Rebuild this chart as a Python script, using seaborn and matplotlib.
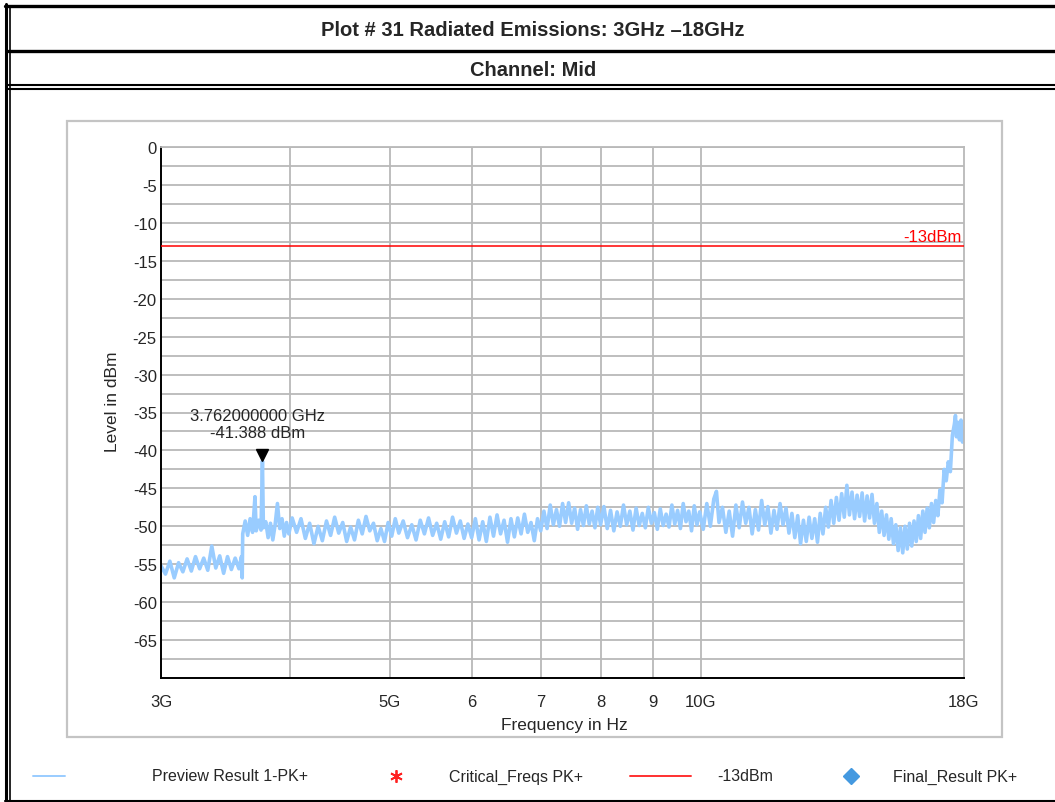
import numpy as np
import pandas as pd
import matplotlib
matplotlib.use("Agg")
import matplotlib.pyplot as plt
from matplotlib.lines import Line2D
from matplotlib.patches import Rectangle
from matplotlib.ticker import FixedLocator, FixedFormatter, MultipleLocator
import seaborn as sns

# preview trace (PK+), frequency in GHz, level in dBm
trace_freq = [
    3.00, 3.03, 3.06, 3.09, 3.12, 3.15, 3.18, 3.21, 3.24, 3.27, 3.30, 3.33, 3.36, 3.39,
    3.42, 3.45, 3.48, 3.51, 3.54, 3.57, 3.59, 3.596, 3.600,
    3.62, 3.64, 3.66, 3.68, 3.70, 3.71, 3.73, 3.75, 3.762, 3.77, 3.79, 3.81, 3.83, 3.85,
    3.87, 3.89, 3.91, 3.93, 3.95, 3.97, 3.99,
    4.02, 4.06, 4.10, 4.14, 4.18, 4.22, 4.26, 4.30, 4.34, 4.38, 4.42, 4.46, 4.50, 4.54,
    4.58, 4.62, 4.66, 4.70, 4.74, 4.78, 4.82, 4.86, 4.90, 4.94, 4.98, 5.02, 5.06, 5.10,
    5.15, 5.20, 5.25, 5.30, 5.35, 5.40, 5.45, 5.50, 5.55, 5.60, 5.65, 5.70, 5.75, 5.80,
    5.85, 5.90, 5.95, 6.00,
    6.05, 6.10, 6.15, 6.20, 6.25, 6.30, 6.35, 6.40, 6.45, 6.50, 6.55, 6.60, 6.65, 6.70,
    6.75, 6.80, 6.85, 6.90, 6.95, 7.00,
    7.05, 7.10, 7.15, 7.20, 7.25, 7.30, 7.35, 7.40, 7.45, 7.50, 7.55, 7.60, 7.65, 7.70,
    7.75, 7.80, 7.85, 7.90, 7.95, 8.00,
    8.06, 8.12, 8.18, 8.24, 8.30, 8.36, 8.42, 8.48, 8.54, 8.60, 8.66, 8.72, 8.78, 8.84,
    8.90, 8.96, 9.02, 9.08, 9.14, 9.20, 9.26, 9.32, 9.38, 9.44, 9.50, 9.56, 9.62, 9.68,
    9.74, 9.80, 9.86, 9.92, 9.98,
    10.06, 10.14, 10.22, 10.30, 10.36, 10.42, 10.50, 10.58, 10.66, 10.74, 10.82, 10.90,
    10.98, 11.06, 11.14, 11.22, 11.30, 11.38, 11.46, 11.54, 11.62, 11.70, 11.78, 11.86,
    11.94, 12.02, 12.10, 12.18, 12.26, 12.34,
    12.42, 12.50, 12.58, 12.66, 12.74, 12.82, 12.90, 12.98, 13.06, 13.14,
    13.22, 13.30, 13.38, 13.46, 13.54, 13.62, 13.70, 13.78, 13.86, 13.94, 14.02, 14.10,
    14.18, 14.26, 14.34, 14.42, 14.50, 14.58, 14.66, 14.74,
    14.82, 14.90, 14.98, 15.06, 15.14, 15.22, 15.30, 15.38,
    15.46, 15.54, 15.62, 15.70, 15.78, 15.86, 15.94, 16.02, 16.10, 16.18,
    16.26, 16.34, 16.42, 16.50, 16.58, 16.66, 16.74, 16.82,
    16.90, 16.98, 17.06, 17.14, 17.22, 17.30, 17.38, 17.46, 17.54, 17.62, 17.66, 17.70,
    17.76, 17.82, 17.88, 17.94, 18.00,
]
trace_level = [
    -55.2, -56.3, -54.6, -56.8, -54.8, -56.0, -54.3, -55.9, -54.0, -55.6, -54.2, -55.8, -52.6, -55.5,
    -53.9, -56.2, -54.0, -55.7, -54.2, -55.6, -54.0, -56.8, -51.0,
    -49.3, -51.2, -49.0, -50.8, -46.1, -50.6, -49.2, -50.5, -41.388, -50.2, -49.4, -51.5, -49.6, -51.8,
    -49.8, -47.0, -50.3, -49.0, -51.3, -49.5, -51.0,
    -48.9, -50.8, -49.0, -51.6, -49.6, -52.3, -50.0, -51.9, -49.3, -51.2, -48.8, -50.9, -49.5, -52.0,
    -50.1, -51.8, -49.2, -51.0, -48.7, -50.6, -49.6, -51.9, -50.3, -52.0, -49.5, -51.3, -49.0, -50.9,
    -49.3, -51.5, -49.8, -51.8, -49.2, -51.0, -48.9, -51.2, -49.6, -51.7, -49.4, -51.4, -48.8, -50.9,
    -49.3, -51.6, -49.7, -51.5,
    -49.0, -51.8, -49.4, -52.0, -48.8, -51.3, -48.5, -51.0, -49.2, -52.1, -49.0, -51.4, -48.9, -51.0,
    -48.4, -50.8, -49.5, -51.9, -49.0, -50.6,
    -48.0, -50.3, -47.2, -49.8, -47.8, -50.0, -47.0, -49.5, -46.9, -49.6, -47.6, -50.4, -47.8, -49.9,
    -47.3, -49.7, -48.0, -50.2, -47.5, -49.8,
    -47.4, -50.3, -47.9, -50.6, -48.1, -50.0, -47.2, -49.8, -48.0, -50.5, -47.6, -49.9, -48.3, -50.2,
    -47.5, -49.6, -48.2, -50.4, -47.7, -49.9, -48.4, -50.1, -47.2, -49.7, -47.9, -50.3, -47.0, -49.4,
    -48.0, -50.6, -47.3, -49.8, -48.1,
    -50.4, -47.0, -50.0, -46.4, -45.4, -49.5, -47.5, -50.8, -48.0, -51.3, -47.2, -50.2,
    -46.8, -49.6, -47.5, -51.0, -47.8, -50.5, -46.6, -49.8, -47.4, -50.9, -47.9, -50.4,
    -47.0, -49.8, -47.6, -50.9, -48.3, -51.5,
    -48.6, -52.3, -49.2, -52.0, -48.8, -51.6, -49.0, -52.1, -48.3, -51.0,
    -47.5, -50.1, -46.6, -49.6, -46.2, -49.2, -45.7, -48.8, -44.6, -48.5, -45.5, -49.0,
    -45.9, -48.7, -45.6, -49.3, -46.0, -48.9, -45.8, -49.6,
    -47.0, -50.8, -48.0, -51.2, -48.5, -51.7, -49.0, -52.3,
    -49.8, -53.2, -50.2, -53.5, -50.0, -53.0, -49.6, -52.6, -49.3, -52.0,
    -48.6, -51.6, -48.0, -50.8, -47.6, -50.2, -47.0, -49.5,
    -46.6, -48.6, -45.2, -46.9, -42.5, -44.0, -41.5, -42.8, -38.0, -36.5, -35.4, -38.2,
    -36.3, -38.6, -36.0, -38.9, -37.5,
]

limit_dbm = -13
peak_freq = 3.762
peak_level = -41.388

x_ticks = [3, 4, 5, 6, 7, 8, 9, 10, 18]
x_tick_labels = ["3G", "", "5G", "6", "7", "8", "9", "10G", "18G"]
y_ticks = [0, -5, -10, -15, -20, -25, -30, -35, -40, -45, -50, -55, -60, -65]

TRACE = "#99CCFF"
GRID = "#B9B9B9"

sns.set_style("white")
plt.rcParams["font.family"] = ["Liberation Sans", "DejaVu Sans"]

W, H = 1055, 803
fig = plt.figure(figsize=(W / 100, H / 100), dpi=100)


def fx(px):
    return px / W


def fy(py):
    return 1 - py / H


ax = fig.add_axes([fx(161), fy(679), fx(964) - fx(161), fy(148) - fy(679)])
ax.set_xscale("log")
ax.set_xlim(3, 18)
ax.set_ylim(-70, 0)

df = pd.DataFrame({"freq": trace_freq, "level": trace_level})
sns.lineplot(data=df, x="freq", y="level", ax=ax, color=TRACE, lw=2.6, sort=False)

ax.axhline(limit_dbm, color="#FF0000", lw=1.1, zorder=3)
ax.text(17.9, limit_dbm + 0.15, "-13dBm", color="#FF0000", ha="right", va="bottom", fontsize=12)

ax.plot([peak_freq], [peak_level + 0.8], marker="v", color="black", ms=8, ls="none", zorder=4)
ax.text(3.72, -36.5, f"{peak_freq:.9f} GHz\n{peak_level:.3f} dBm", ha="center", va="center",
        fontsize=12, linespacing=1.15)

# axes / ticks
ax.xaxis.set_major_locator(FixedLocator(x_ticks))
ax.xaxis.set_major_formatter(FixedFormatter(x_tick_labels))
ax.xaxis.set_minor_locator(FixedLocator([]))
ax.yaxis.set_major_locator(FixedLocator(y_ticks + [-70]))
ax.yaxis.set_major_formatter(FixedFormatter([str(v) for v in y_ticks] + [""]))
ax.yaxis.set_minor_locator(MultipleLocator(2.5))

ax.tick_params(axis="y", which="both", direction="in", length=7, width=1.2, color="black",
               labelsize=12, pad=3)
ax.tick_params(axis="x", which="both", direction="inout", length=9, width=1.2, color="black",
               labelsize=12, pad=7)

ax.grid(True, axis="y", which="both", color=GRID, lw=1.3)
for f in x_ticks[1:-1]:
    ax.axvline(f, color=GRID, lw=1.3, zorder=0.5)

for s in ["left", "bottom"]:
    ax.spines[s].set_color("black")
    ax.spines[s].set_linewidth(1.4)
for s in ["top", "right"]:
    ax.spines[s].set_color(GRID)
    ax.spines[s].set_linewidth(1.3)

ax.set_xlabel("Frequency in Hz", fontsize=12.5)
ax.set_ylabel("Level in dBm", fontsize=12.5)
ax.xaxis.set_label_coords((564 - 161) / (964 - 161), -(718 - 679) / (679 - 148))
ax.yaxis.set_label_coords(-(161 - 120) / (964 - 161), (679 - 402) / (679 - 148))

# gray box around the chart
fig.add_artist(Rectangle((fx(67), fy(738)), fx(1002) - fx(67), fy(122) - fy(738),
                         fill=False, edgecolor="#C4C4C4", lw=1.6))

# table frame of the report page
def hline(py, lw, x0=5, x1=1055):
    fig.add_artist(Line2D([fx(x0), fx(x1)], [fy(py), fy(py)], color="black", lw=lw))


def vline(px, lw, y0=5, y1=803):
    fig.add_artist(Line2D([fx(px), fx(px)], [fy(y0), fy(y1)], color="black", lw=lw))


hline(6.5, 2.4)
hline(51.5, 2.4, x0=8)
hline(86, 1.5, x0=8)
hline(89.5, 1.5, x0=8)
hline(801.5, 1.5)
vline(6, 2.2)
vline(9.5, 1.2, y0=8)

fig.text(fx(533), fy(31), "Plot # 31 Radiated Emissions: 3GHz \u201318GHz", ha="center", va="center",
         fontsize=14.5, fontweight="bold")
fig.text(fx(533), fy(70), "Channel: Mid", ha="center", va="center",
         fontsize=14.5, fontweight="bold")

# legend row at the bottom
ly = fy(777)
fig.add_artist(Line2D([fx(33), fx(65)], [ly, ly], color=TRACE, lw=1.4))
fig.text(fx(152), ly, "Preview Result 1-PK+", va="center", fontsize=11.5)
fig.add_artist(Line2D([fx(396)], [ly], marker=(6, 2, 0), color="#FF2020", ms=9, mew=1.3, ls="none"))
fig.text(fx(449), ly, "Critical_Freqs PK+", va="center", fontsize=11.5)
fig.add_artist(Line2D([fx(630), fx(691)], [ly, ly], color="#FF3030", lw=1.4))
fig.text(fx(717), ly, "-13dBm", va="center", fontsize=11.5)
fig.add_artist(Line2D([fx(851)], [ly], marker="D", color="#4499E0", ms=8, ls="none"))
fig.text(fx(893), ly, "Final_Result PK+", va="center", fontsize=11.5)

fig.savefig("out.png", dpi=100)
